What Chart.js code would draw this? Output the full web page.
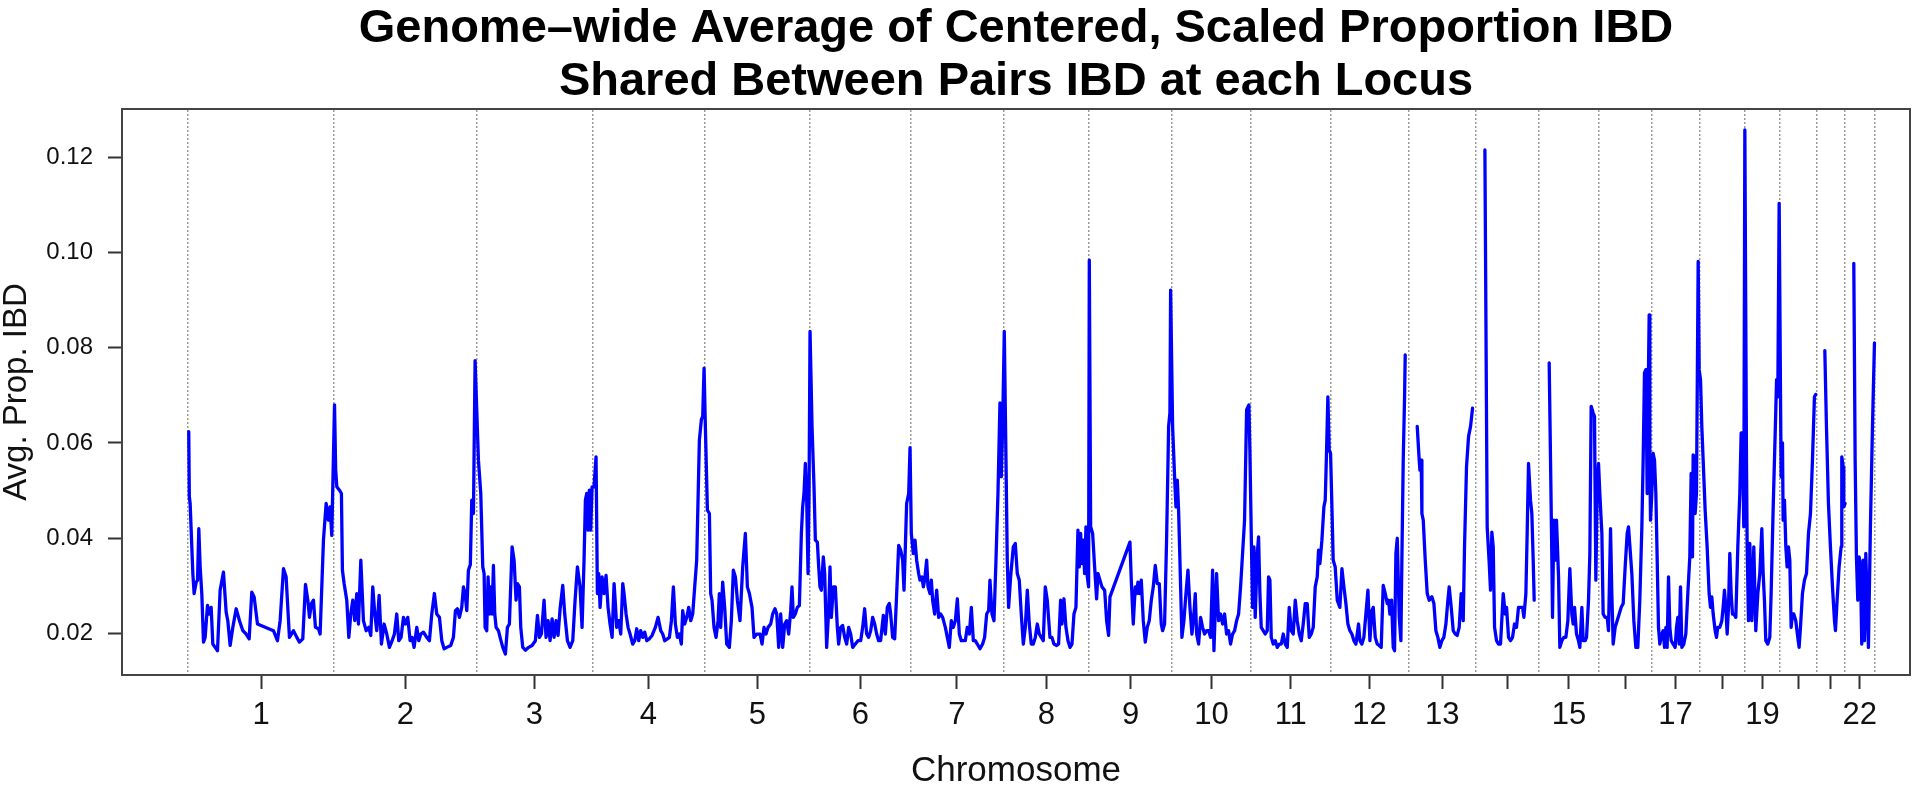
<!DOCTYPE html>
<html>
<head>
<meta charset="utf-8">
<title>Genome-wide Average of Centered, Scaled Proportion IBD</title>
<script src="https://cdn.jsdelivr.net/npm/chart.js@4.4.1/dist/chart.umd.min.js"></script>
<style>
  html, body { margin: 0; padding: 0; background: #fff; }
  #wrap { width: 1920px; height: 791px; }
</style>
</head>
<body>
<div id="wrap"><canvas id="ibd-chart"></canvas></div>
<script>
"use strict"

// chromosome lengths in Mb (boundaries + tick positions come from these)
const chromLen = [249.25, 243.2, 198.0, 191.15, 180.9, 171.1, 159.1, 146.4, 141.2, 135.5, 135.0,
                  133.85, 115.2, 107.35, 102.5, 90.35, 81.2, 78.1, 59.1, 63.0, 48.1, 51.3];
// R dropped the labels that would overlap
const chromLabels = ["1", "2", "3", "4", "5", "6", "7", "8", "9", "10", "11", "12", "13", "",
                     "15", "", "17", "", "19", "", "", "22"];
const yTicks = [0.02, 0.04, 0.06, 0.08, 0.10, 0.12];

// genome position (cumulative Mb), one line per chromosome
const pos = [
  1, 2, 3.4, 8, 10.2, 13.7, 16, 18.2, 20.5, 23.3, 26.2, 29, 33, 36.4, 39.3, 42.1, 46.1, 50.1, 54.6, 60.3, 64.9, 67.7, 71.7, 76.3, 82, 87.7, 93.4, 99, 104.2, 108.7, 112.7, 118.4, 145.7, 152.5, 157.1, 162.8, 167.3, 173, 179.9, 185.6, 190.1, 195.8, 200.4, 204.4, 207.2, 210.6, 214, 217.4, 222.6, 225.4, 231.1, 235.7, 239.6, 242.5, 245.3,
  250, 252, 253.9, 258.4, 261.8, 263.5, 266.4, 270.9, 274.4, 277.8, 281.2, 284.6, 288, 290.9, 294.9, 299.4, 304, 308.5, 311.9, 315.3, 318.8, 322.2, 326.2, 330.1, 334.7, 339.2, 343.8, 348.4, 352.3, 356.3, 359.7, 363.7, 367.7, 371.1, 375.1, 379.1, 382.5, 385.9, 390.5, 393.9, 397.3, 401.9, 407.6, 412.1, 416.1, 420.6, 424.6, 429.2, 433.2, 437.2, 441.7, 448.5, 453.1, 456.5, 459.9, 463.3, 467.3, 470.2, 473, 475.9, 478.7, 482, 484.4, 487.3,
  490.1, 495.8, 499.8, 503.2, 505.5, 507.2, 510, 512.3, 514.6, 516.9, 519.1, 521.4, 523.7, 526, 530, 532.8, 537.4, 541.9, 545.3, 548.7, 553.3, 556.7, 560.1, 562.4, 565.8, 568.1, 571.5, 576.1, 581.7, 587.4, 593.1, 596.6, 600, 603.4, 607.9, 611.3, 614.8, 618.2, 621.6, 625, 628.4, 631.8, 635.3, 639.8, 643.2, 647.8, 652.3, 656.9, 660.9, 664.9, 669.4, 672.8, 676.2, 678.5, 680.8, 683.1, 685.3, 687.6, 689.9,
  693.3, 696.7, 699, 701.3, 703.6, 707, 710.4, 713.8, 717.2, 720.6, 724.1, 727.5, 729.7, 732, 735.4, 738.9, 742.3, 744.5, 748, 751.4, 754.8, 759.3, 762.8, 766.2, 769.6, 773, 776.4, 779.8, 783.3, 787.8, 792.4, 798, 802.6, 807.2, 810.6, 814, 818.5, 822, 825.4, 828.8, 832.2, 835.6, 839, 842.4, 844.7, 848.1, 851.6, 855, 858.4, 861.8, 865.2, 868.6, 873.2, 876.6, 878.9, 881.2,
  883.4, 886.9, 890.3, 892.5, 894.8, 898.2, 901.7, 905.1, 907.3, 909.6, 913, 916.4, 919.9, 924.4, 927.8, 931.2, 934.7, 938.1, 942.6, 947.2, 951.7, 955.2, 958.6, 963.1, 966.5, 971.1, 976.8, 980.2, 983.6, 987, 990.5, 995, 998.4, 1002.4, 1005.3, 1008.7, 1012.1, 1015.5, 1018.9, 1022.3, 1025.7, 1029.2, 1031.4, 1033.7, 1037.1, 1040.5, 1044, 1047.4, 1049.6, 1051.9, 1054.2, 1056.5, 1058.8, 1060.5, 1062.2,
  1065.6, 1069, 1071.3, 1074.7, 1077, 1079.2, 1081.5, 1084.9, 1087.2, 1090.6, 1094, 1096.3, 1098.6, 1102, 1105.4, 1108.8, 1111.1, 1114.5, 1117.9, 1121.4, 1124.8, 1128.2, 1131.6, 1135, 1139.6, 1144.1, 1148.7, 1152.1, 1155.5, 1158.9, 1162.3, 1165.8, 1169.2, 1172.6, 1176, 1179.4, 1182.8, 1187.4, 1190.8, 1194.2, 1197.6, 1199.9, 1203.3, 1206.8, 1210.2, 1213.6, 1217, 1220.4, 1222.7, 1225, 1227.2, 1230.7, 1233,
  1235.2, 1238.6, 1241.5, 1244.3, 1247.7, 1250, 1253.4, 1255.7, 1258, 1261.4, 1263.7, 1267.1, 1269.4, 1271.6, 1275.1, 1278.5, 1281.9, 1285.3, 1288.7, 1293.3, 1296.7, 1300.1, 1303.5, 1306.9, 1310.4, 1313.8, 1317.2, 1320.6, 1324, 1327.4, 1330.8, 1334.3, 1337.7, 1341.1, 1344.5, 1347.9, 1352.5, 1357, 1360.4, 1363.9, 1367.3, 1369.5, 1373, 1376.4, 1379.8, 1383.2, 1386.6, 1388.9, 1391.2, 1394,
  1396.9, 1399.1, 1401.4, 1404.8, 1409.4, 1412.8, 1416.2, 1419.6, 1423, 1426.5, 1429.9, 1433.3, 1436.7, 1440.1, 1443.5, 1447, 1450.4, 1453.8, 1457.2, 1460.6, 1464, 1467.4, 1472, 1475.4, 1478.8, 1483.4, 1486.8, 1490.2, 1492.5, 1495.9, 1499.3, 1502.8, 1506.2, 1509.6, 1513, 1516.4, 1519.8, 1522.1, 1524.4, 1526.7, 1528.9, 1531.2, 1533.5, 1535.8, 1538, 1539.2,
  1541.5, 1544.9, 1548.3, 1551.7, 1554, 1557.4, 1560.8, 1565.4, 1568.8, 1572.2, 1574.5, 1608.6, 1610.9, 1614.3, 1617.7, 1620, 1622.3, 1624.6, 1628, 1631.4, 1634.8, 1638.2, 1641.6, 1645.1, 1648.5, 1651.9, 1655.3, 1658.7, 1662.1, 1664.4, 1667.8, 1671.2, 1674.7, 1676.9, 1678.1,
  1681.5, 1684.9, 1687.2, 1689.5, 1691.7, 1694, 1697.4, 1700.8, 1704.3, 1707.7, 1711.1, 1714.5, 1717.9, 1720.2, 1722.5, 1725.9, 1729.3, 1732.7, 1736.1, 1739.5, 1742.9, 1746.4, 1749.8, 1752.1, 1754.3, 1756.6, 1760, 1763.5, 1766.9, 1770.3, 1773.7, 1777.1, 1780.5, 1783.9, 1787.4, 1790.8, 1794.2, 1797.6, 1801, 1804.4, 1807.9, 1811.8,
  1813.5, 1815.8, 1818.1, 1820.4, 1822.6, 1826.1, 1828.3, 1830.6, 1832.9, 1836.3, 1839.7, 1843.1, 1845.4, 1847.7, 1850, 1853.4, 1856.8, 1860.2, 1863.6, 1867.1, 1870.5, 1873.9, 1877.3, 1880.7, 1884.1, 1887.5, 1891, 1894.4, 1897.8, 1901.2, 1904.6, 1908, 1911.4, 1914.9, 1918.3, 1921.7, 1925.1, 1928.5, 1930.8, 1933.1, 1936.5, 1939.9, 1942.2, 1944.5, 1946.7,
  1949, 1951.3, 1953.6, 1955.8, 1959.2, 1962.7, 1967.2, 1970.7, 1974.1, 1977.5, 1980.9, 1984.3, 1987.7, 1991.2, 1994.6, 1999.1, 2001.4, 2004.8, 2008.2, 2011.6, 2015.1, 2018.5, 2021.9, 2024.2, 2027.6, 2031, 2034.4, 2037.8, 2041.2, 2044.7, 2048.1, 2050.4, 2052.6, 2055.5, 2058.3, 2060.6, 2062.9, 2065.2, 2068.6, 2071.4, 2073.1, 2075.4, 2077.7, 2078.8, 2090,
  2099.3, 2102.7, 2103.9, 2106.1, 2107.3, 2109.6, 2113, 2116.4, 2119.8, 2124.4, 2127.8, 2131.2, 2134.6, 2138, 2141.4, 2144.8, 2148.3, 2151.7, 2153.9, 2157.4, 2160.8, 2164.2, 2167.6, 2171, 2174.4, 2177.9, 2180.1, 2183.5, 2187, 2190.4, 2193.8, 2205,
  2214.9, 2218.8, 2222.3, 2224.5, 2226.8, 2229.1, 2231.4, 2234.8, 2238.2, 2241.6, 2246.2, 2249.6, 2251.9, 2255.3, 2258.7, 2262.1, 2265.5, 2268.9, 2272.3, 2275.8, 2279.2, 2281.5, 2284.9, 2287.1, 2289.4, 2292.8, 2295.1, 2297.4, 2299.1, 2310,
  2324.7, 2327, 2329.3, 2330.4, 2332.7, 2335, 2337.2, 2340.7, 2342.9, 2346.3, 2349.8, 2353.2, 2356.6, 2360, 2363.4, 2365.7, 2368, 2371.4, 2374.8, 2377.1, 2380.5, 2382.8, 2386.2, 2388.5, 2391.9, 2394.2, 2396.4, 2399.9, 2402.1, 2404.4,
  2406.7, 2409, 2411.2, 2414.7, 2416.9, 2420.3, 2423.8, 2426, 2429.5, 2431.7, 2434, 2437.4, 2440.8, 2444.3, 2447.7, 2451.1, 2454.5, 2457.9, 2460.2, 2465.9, 2469.3, 2472.7, 2476.1, 2479.5, 2483, 2485.2, 2487.5, 2489.8, 2492.1, 2493.8, 2495.5,
  2496.6, 2497.8, 2500, 2502.3, 2504.6, 2506.9, 2509.2, 2511.4, 2513.7, 2517.1, 2519.4, 2521.7, 2524, 2526.2, 2528.5, 2530.8, 2533.1, 2536.5, 2539.9, 2542.2, 2544.4, 2546.7, 2549, 2551.3, 2554.7, 2558.1, 2561.5, 2564.9, 2567.2, 2568.3, 2569.5, 2570.6, 2572.9, 2574, 2576.3, 2579.2,
  2580.9, 2583.2, 2585.4, 2587.7, 2591.1, 2594.5, 2597.9, 2600.2, 2602.5, 2604.8, 2608.2, 2610.5, 2612.7, 2616.2, 2619.6, 2621.8, 2624.1, 2626.4, 2628.7, 2631, 2633.2, 2635.5, 2637.8, 2640.1, 2643.5, 2646.9, 2650.3, 2652.6, 2654.9, 2657.1, 2658.9,
  2661.7, 2662.8, 2665.1, 2667.4, 2670.8, 2674.2, 2677.6, 2681.1, 2684.5, 2687.9, 2690.2, 2692.4, 2694.7, 2698.1, 2701.5, 2703.8, 2707.2, 2710.6, 2713.1, 2715.2, 2717.5,
  2719.8, 2720.9, 2723.2, 2724.3, 2726.6, 2728.9, 2731.1, 2733.4, 2735.7, 2738, 2740.2, 2742.5, 2745.9, 2749.3, 2751.6, 2753.9, 2757.3, 2760.7, 2764.2, 2767.6, 2771, 2774.4, 2777.8, 2780.1, 2788,
  2795.5, 2798.3, 2801.7, 2805.1, 2808.6, 2812, 2813.7, 2816.5, 2819.9, 2823.4, 2824.5, 2826.8, 2827.9, 2830.2, 2838,
  2845, 2847.3, 2849.5, 2851.8, 2854.1, 2856.4, 2858.6, 2860.9, 2863.2, 2865.5, 2867.7, 2870, 2873.4, 2876.9, 2880.3
];

// avg. centered, scaled proportion IBD at each position (null = gap in the line)
const ibd = [
  .0624, .0487, .0473, .0326, .0284, .0308, .0312, .042, .034, .0284, .0182, .0192, .0259, .0241, .0255, .0178, .0171, .0164, .0291, .0329, .0245, .0227, .0175, .0213, .0252, .0227, .0206, .0199, .0189, .0287, .0277, .022, .0206, .0185, .0227, .0336, .0319, .0192, .0206, .0192, .0182, .0189, .0303, .027, .0234, .0263, .027, .0213, .021, .0199, .0396, .0473, .0438, .0466, .0406,
  .068, .0543, .0508, .0501, .0494, .0333, .0305, .027, .0192, .0241, .027, .0227, .0284, .022, .0354, .0227, .0206, .0213, .0196, .0298, .0241, .0206, .028, .0178, .022, .0199, .0171, .0185, .0199, .0241, .0185, .0192, .0234, .022, .0234, .0185, .0192, .0171, .0213, .0185, .0199, .0203, .0192, .0185, .0241, .0284, .0241, .0234, .0185, .0168, .0171, .0175, .0192, .0248, .0252, .0234, .0255, .0298, .0284, .0248, .0333, .0345, .048, .0452,
  .0773, .0564, .0494, .034, .0326, .0213, .0206, .0319, .0241, .0298, .0241, .0343, .0241, .0213, .0206, .0192, .0171, .0157, .0213, .022, .0382, .0354, .027, .0305, .0298, .0213, .0171, .0165, .0171, .0175, .0185, .0238, .0192, .0199, .027, .0192, .0227, .0185, .0231, .0192, .0227, .0196, .0252, .0301, .0241, .0185, .0171, .0185, .027, .034, .0298, .0213, .0354, .048, .0494, .0417, .0501, .0417, .0508,
  .0508, .0571, .0284, .0326, .0255, .0319, .0284, .0322, .0255, .022, .0192, .0305, .0263, .0213, .0227, .0199, .0305, .0284, .0241, .0213, .0199, .0178, .0185, .021, .0185, .0206, .0192, .0203, .0185, .0189, .0196, .0213, .0234, .0206, .0199, .0185, .0189, .0192, .0227, .0298, .022, .0192, .0199, .0178, .0248, .022, .0234, .0255, .0227, .0241, .0298, .0354, .0606, .0649, .0656, .0757,
  .0635, .0459, .0452, .0284, .027, .0213, .0192, .0227, .0284, .0213, .0308, .0255, .0178, .0171, .0227, .0333, .0319, .027, .0227, .034, .041, .0298, .0284, .0255, .0192, .0199, .0199, .0178, .0213, .0199, .0213, .022, .0241, .0252, .0241, .0171, .0241, .0171, .022, .0227, .0199, .0248, .0298, .0234, .0241, .0255, .0259, .041, .0466, .0494, .0557, .048, .0326, .0494, .0834,
  .0635, .0508, .0396, .0392, .034, .0298, .0291, .0361, .0326, .0171, .0248, .034, .0234, .0298, .0298, .0213, .0178, .0213, .0217, .0192, .0178, .0213, .0199, .0171, .0178, .0185, .0185, .0213, .0252, .0199, .0192, .0206, .0234, .022, .0199, .0185, .0185, .0238, .0199, .0255, .0263, .0241, .0192, .0189, .0284, .0385, .0375, .0354, .0291, .0382, .0473, .0494, .059,
  .041, .0368, .0396, .0354, .0326, .0312, .0319, .0298, .0312, .0354, .0298, .0284, .0312, .027, .0241, .0291, .0234, .0241, .0234, .0213, .0192, .0171, .0227, .0213, .0227, .0273, .0199, .0185, .0185, .0185, .0213, .0199, .0255, .0185, .0185, .0178, .0168, .0178, .0192, .0241, .0248, .0312, .0241, .0227, .0354, .0494, .0684, .0529, .0635, .0834,
  .0564, .0354, .0255, .0319, .0382, .0389, .0326, .0312, .0241, .0178, .0213, .0291, .022, .0178, .0178, .0192, .022, .0199, .0192, .0185, .0298, .027, .0192, .0192, .0178, .0175, .0178, .027, .022, .0273, .0213, .0185, .0171, .0178, .0241, .0255, .0417, .034, .041, .0347, .0396, .0326, .0424, .0319, .0298, .0984,
  .0424, .041, .034, .0273, .0326, .0312, .0298, .0291, .0227, .0196, .0277, .0392, .0312, .022, .0298, .0284, .0308, .0284, .0312, .0227, .0182, .0213, .0227, .027, .0298, .0343, .0305, .0305, .022, .0206, .022, .0396, .0635, .0663, .0921,
  .0635, .0529, .0466, .0522, .0459, .0354, .0192, .0227, .0284, .0333, .0255, .0199, .0241, .0284, .0199, .0178, .0234, .0213, .0199, .0206, .0206, .0192, .0333, .0164, .0248, .0326, .0227, .0241, .022, .0241, .0199, .0206, .0178, .0199, .0206, .0227, .0241, .0298, .0368, .0438, .067, .068,
  .0585, .041, .0255, .0382, .0234, .0368, .0403, .0284, .0213, .0206, .0199, .0206, .0319, .0312, .0192, .0178, .0185, .0171, .0178, .0178, .0199, .0178, .0171, .0255, .0206, .0199, .027, .0227, .0199, .0185, .022, .0263, .0263, .0192, .0199, .0213, .0298, .0319, .0375, .0347, .0396, .0466, .048, .0585, .0697,
  .0585, .0578, .0466, .0354, .034, .027, .0255, .0336, .0298, .0263, .022, .0206, .0199, .0185, .0178, .022, .0185, .0178, .0192, .0241, .0291, .0185, .0248, .0255, .0192, .0178, .0175, .0171, .0301, .0284, .0263, .027, .0241, .027, .0171, .0164, .0368, .04, .0234, .0185, .0354, .0564, .0697, .0785, null,
  .0635, .0564, .0543, .0564, .0452, .0438, .0354, .0284, .027, .0277, .0263, .0206, .0192, .0171, .0185, .0192, .022, .027, .0298, .0255, .0206, .0199, .0196, .0213, .0284, .0227, .0382, .055, .0614, .0635, .0673, null,
  .1215, .0424, .0347, .0291, .0413, .0382, .0213, .0185, .0178, .0178, .0284, .0241, .0255, .0192, .0185, .0192, .022, .0213, .0255, .0255, .0255, .0234, .0284, .041, .0557, .048, .0452, .0354, .027, null,
  .0768, .0564, .0354, .0234, .0438, .0354, .0438, .0319, .0171, .0185, .0192, .0192, .0227, .0336, .0241, .022, .0255, .0199, .0185, .0171, .0255, .0185, .0185, .0192, .027, .0368, .0677, .0663, .0656, .0312,
  .0508, .0557, .0494, .041, .0241, .0234, .0234, .0206, .042, .0284, .0178, .0213, .0227, .0241, .0255, .0263, .034, .041, .0424, .0326, .0227, .0171, .0171, .027, .0424, .0564, .0747, .0754, .0494, .0705, .0869,
  .0564, .0438, .0494, .0578, .0564, .0494, .0354, .0213, .0178, .0199, .0206, .0171, .0213, .0171, .0319, .0213, .0185, .0178, .0171, .0213, .0234, .0178, .0298, .0171, .0178, .0199, .0284, .0361, .0536, .048, .0361, .0575, .0571, .0452, .0494, .0981,
  .0754, .0733, .0635, .0564, .0459, .0382, .0284, .0255, .0277, .0241, .0206, .0192, .0213, .0213, .0227, .0255, .0291, .0255, .0199, .0255, .0368, .0284, .0241, .0241, .0234, .0382, .0494, .0621, .0621, .0424, .1257,
  .0564, .0389, .0227, .0389, .0227, .0382, .0206, .0284, .0326, .042, .0326, .027, .0185, .0178, .0192, .0284, .0459, .0614, .0733, .0697, .1103,
  .0705, .0529, .06, .0438, .048, .0382, .034, .0382, .0354, .0213, .0241, .0241, .0227, .0192, .0171, .0213, .0284, .0312, .0326, .041, .0452, .0564, .0697, .0702, null,
  .0794, .0635, .0473, .0382, .0298, .0227, .0206, .027, .034, .0382, .0571, .055, .0466, .0473, null,
  .0977, .0564, .0361, .027, .0361, .034, .0178, .0354, .0185, .0368, .027, .0171, .0424, .0635, .081
];

const bounds = [0];
chromLen.forEach(len => bounds.push(bounds[bounds.length - 1] + len));
const centers = chromLen.map((len, i) => bounds[i] + len / 2);

Chart.defaults.font.family = "'Liberation Sans', Arial, Helvetica, sans-serif";
Chart.defaults.color = '#111';

const boxColor = '#444';

new Chart(document.getElementById('ibd-chart'), {
  type: 'line',
  data: {
    datasets: [{
      data: pos.map((p, i) => ({ x: p, y: ibd[i] })),
      xAxisID: 'x',
      yAxisID: 'y',
      borderColor: '#0000ff',
      borderWidth: 3.3,
      borderJoinStyle: 'round',
      borderCapStyle: 'round',
      pointRadius: 0,
      tension: 0,
      spanGaps: false
    }]
  },
  options: {
    responsive: true,
    maintainAspectRatio: false,
    animation: false,
    layout: { padding: { left: 0, right: 10, top: 0, bottom: 0 } },
    plugins: {
      legend: { display: false },
      tooltip: { enabled: false },
      title: {
        display: true,
        fullSize: false,
        text: ['Genome\u2013wide Average of Centered, Scaled Proportion IBD',
               'Shared Between Pairs IBD at each Locus'],
        color: '#000',
        font: { size: 47, weight: 'bold', lineHeight: 1.128 },
        padding: { top: 3, bottom: 0 }
      }
    },
    scales: {
      x: {
        type: 'linear',
        position: 'bottom',
        min: -113,
        max: 2941,
        afterBuildTicks: s => { s.ticks = centers.map(v => ({ value: v })); },
        afterFit: s => { s.height = 116; s.paddingLeft = 0; s.paddingRight = 0; },
        ticks: {
          autoSkip: false,
          maxRotation: 0,
          padding: 8,
          color: '#111',
          font: { size: 31 },
          callback: (v, i) => chromLabels[i]
        },
        grid: { drawOnChartArea: false, tickLength: 14, tickWidth: 2, tickColor: '#333' },
        border: { display: true, color: boxColor, width: 2 },
        title: { display: true, text: 'Chromosome', color: '#111', font: { size: 35, lineHeight: 1.1 }, padding: 0 }
      },
      y: {
        type: 'linear',
        min: 0.0113,
        max: 0.1301,
        afterBuildTicks: s => { s.ticks = yTicks.map(v => ({ value: v })); },
        afterFit: s => { s.width = 122; s.paddingTop = 0; s.paddingBottom = 0; },
        ticks: { padding: 15, color: '#111', font: { size: 24 }, callback: v => v.toFixed(2) },
        grid: { drawOnChartArea: false, tickLength: 14, tickWidth: 2, tickColor: '#333' },
        border: { display: true, color: boxColor, width: 2 },
        title: { display: true, text: 'Avg. Prop. IBD', color: '#111', font: { size: 33, lineHeight: 1.0 }, padding: 0 }
      },
      // chromosome boundaries (dotted) + top edge of the box
      x2: {
        type: 'linear',
        position: 'top',
        min: -113,
        max: 2941,
        afterBuildTicks: s => { s.ticks = bounds.map(v => ({ value: v })); },
        afterFit: s => { s.height = 0; s.paddingLeft = 0; s.paddingRight = 0; },
        ticks: { display: false },
        grid: { drawTicks: false, color: '#9a9a9a', lineWidth: 1.5 },
        border: { display: true, color: boxColor, width: 2, dash: [2, 2] }
      },
      // right edge of the box
      y2: {
        type: 'linear',
        position: 'right',
        afterFit: s => { s.width = 0; },
        ticks: { display: false },
        grid: { display: false, drawTicks: false },
        border: { display: true, color: boxColor, width: 2 }
      }
    }
  }
});
</script>
</body>
</html>
